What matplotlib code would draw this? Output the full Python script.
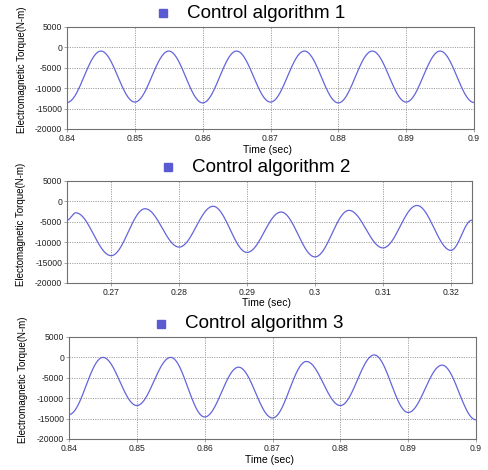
import numpy as np
import matplotlib
matplotlib.use("Agg")
import matplotlib.pyplot as plt
from matplotlib.lines import Line2D

plt.rcParams['font.family'] = ['Liberation Sans', 'DejaVu Sans']

# extrema of each waveform (time in s, torque in N-m)
t1 = [0.840, 0.845, 0.850, 0.855, 0.860, 0.865, 0.870, 0.875, 0.880, 0.885, 0.890, 0.895, 0.900]
v1 = [-13500, -900, -13400, -900, -13600, -900, -13400, -900, -13600, -900, -13400, -900, -13500]

t2 = [0.2635, 0.2648, 0.270, 0.275, 0.280, 0.285, 0.290, 0.295, 0.300, 0.305, 0.310, 0.315, 0.320, 0.3231]
v2 = [-4600, -2800, -13300, -1800, -11200, -1200, -12500, -2600, -13600, -2200, -11400, -1000, -12000, -4600]

t3 = [0.840, 0.845, 0.850, 0.855, 0.860, 0.865, 0.870, 0.875, 0.880, 0.885, 0.890, 0.895, 0.900]
v3 = [-14000, 0, -11800, 0, -14600, -2400, -14850, -1000, -11800, 600, -13500, -1900, -15300]

titles = ["Control algorithm 1", "Control algorithm 2", "Control algorithm 3"]
ylabels = ["Electromagnetic Torque(N-m)", "Electomagnetic Torque(N-m)", "Electromagnetic Torque(N-m)"]
xlabels = ["Time (sec)", "Time (sec)", "Time (sec)"]
xticks1 = [0.84, 0.85, 0.86, 0.87, 0.88, 0.89, 0.9]
xticks2 = [0.27, 0.28, 0.29, 0.3, 0.31, 0.32]
xticks3 = [0.84, 0.85, 0.86, 0.87, 0.88, 0.89, 0.9]
yticks = [5000, 0, -5000, -10000, -15000, -20000]


def smooth(knots_t, knots_v, n=40):
    # half-cosine shape between successive extrema
    xs, ys = [], []
    for i in range(len(knots_t) - 1):
        s = np.linspace(0, 1, n, endpoint=False)
        w = (1 - np.cos(np.pi * s)) / 2
        xs.append(knots_t[i] + (knots_t[i + 1] - knots_t[i]) * s)
        ys.append(knots_v[i] + (knots_v[i + 1] - knots_v[i]) * w)
    xs.append([knots_t[-1]])
    ys.append([knots_v[-1]])
    return np.concatenate(xs), np.concatenate(ys)


fig = plt.figure(figsize=(4.88, 4.70), dpi=100)

# pixel boxes (left, top, right, bottom), title y, square x, text x, xlabel y, ylabel x
H = 470.0
W = 488.0
panels = [
    dict(box=(67, 27, 474, 129), t=t1, v=v1, xt=xticks1, xlim=(0.84, 0.9), ty=13, sq=163, tx=187, xl=150, ylx=22),
    dict(box=(67, 181, 472, 283), t=t2, v=v2, xt=xticks2, xlim=(0.2635, 0.3231), ty=167, sq=168, tx=192, xl=303, ylx=21),
    dict(box=(69, 337, 476, 439), t=t3, v=v3, xt=xticks3, xlim=(0.84, 0.9), ty=324, sq=161, tx=185, xl=460, ylx=23),
]

for k, p in enumerate(panels):
    l, tp, r, b = p['box']
    ax = fig.add_axes([l / W, 1 - b / H, (r - l) / W, (b - tp) / H])
    x, y = smooth(p['t'], p['v'])
    ax.plot(x, y, color='#6464dc', lw=0.9)
    ax.set_xlim(*p['xlim'])
    ax.set_ylim(-20000, 5000)
    ax.set_xticks(p['xt'])
    ax.set_xticklabels([('%g' % v) for v in p['xt']])
    ax.set_yticks(yticks)
    ax.set_yticklabels([str(v) for v in yticks])
    ax.grid(True, color='#a0a0a0', ls=(0, (1.2, 1.2)), lw=0.7)
    ax.tick_params(length=2, width=0.5, color='#808080', labelsize=6.2, pad=1.5, labelcolor='#222222')
    for s in ax.spines.values():
        s.set_color('#707070')
        s.set_linewidth(0.8)
    # title with square marker
    fig.text(p['tx'] / W, 1 - p['ty'] / H, titles[k], fontsize=13.6, ha='left', va='center', color='black')
    fig.add_artist(Line2D([p['sq'] / W], [1 - p['ty'] / H], marker='s', markersize=6,
                          color='#5a5ad2', transform=fig.transFigure))
    fig.text(((l + r) / 2 - 3) / W, 1 - p['xl'] / H, xlabels[k], fontsize=7.5, ha='center', va='center')
    fig.text(p['ylx'] / W, 1 - ((tp + b) / 2 - 8) / H, ylabels[k], fontsize=7, rotation=90,
             ha='center', va='center')

fig.savefig('out.png', dpi=100)
